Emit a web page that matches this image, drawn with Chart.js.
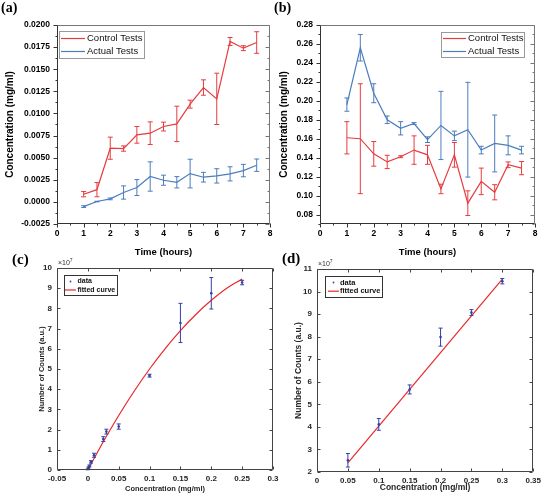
<!DOCTYPE html>
<html lang="en">
<head>
    <meta charset="UTF-8">
    <title>Concentration and counts</title>
    <style>
        body { margin: 0; background: #fff; }
        #wrap { position: relative; width: 545px; height: 498px; overflow: hidden; }
        canvas { position: absolute; left: 0; top: 0; }
        .tag {
            position: absolute;
            font-family: "Liberation Serif", "DejaVu Serif", serif;
            font-weight: bold;
            line-height: 1;
            color: #000;
        }
    </style>
    <script src="https://cdn.jsdelivr.net/npm/chart.js"></script>
</head>
<body>
<div id="wrap">
    <canvas id="chartA" width="545" height="498"></canvas>
    <canvas id="chartB" width="545" height="498"></canvas>
    <canvas id="chartC" width="545" height="498"></canvas>
    <canvas id="chartD" width="545" height="498"></canvas>
    <div class="tag" style="left:1px;top:1px;font-size:14px">(a)</div>
    <div class="tag" style="left:274px;top:1px;font-size:14px">(b)</div>
    <div class="tag" style="left:12px;top:252px;font-size:15px">(c)</div>
    <div class="tag" style="left:282px;top:251px;font-size:15px">(d)</div>
</div>

<script>
    // (a) / (b): time points in hours
    const hours = [1, 1.5, 2, 2.5, 3, 3.5, 4, 4.5, 5, 5.5, 6, 6.5, 7, 7.5];

    // (a) concentration (mg/ml)
    const aControl    = [0.00087, 0.00138, 0.00607, 0.00603, 0.00758, 0.00777, 0.00852, 0.00882, 0.01105, 0.01293, 0.01165, 0.01814, 0.01738, 0.01802];
    const aControlErr = [0.0003, 0.0008, 0.00125, 0.0003, 0.00094, 0.00128, 0.0005, 0.002, 0.00045, 0.00087, 0.0029, 0.00045, 0.00028, 0.00122];
    const aActual     = [-0.00053, 0.00004, 0.00034, 0.00106, 0.00162, 0.00287, 0.00245, 0.00222, 0.0032, 0.00279, 0.00294, 0.00317, 0.00354, 0.00415];
    const aActualErr  = [0.0001, 0.00003, 0.0001, 0.00075, 0.0009, 0.00166, 0.00057, 0.00064, 0.00162, 0.00055, 0.00081, 0.0008, 0.0007, 0.0007];

    // (b) concentration (mg/ml)
    const bControl    = [0.161, 0.160, 0.144, 0.1355, 0.141, 0.148, 0.143, 0.107, 0.143, 0.092, 0.115, 0.1035, 0.1325, 0.129];
    const bControlErr = [0.017, 0.058, 0.013, 0.007, 0.001, 0.015, 0.01, 0.005, 0.013, 0.013, 0.014, 0.008, 0.003, 0.007];
    const bActual     = [0.196, 0.256, 0.208, 0.180, 0.171, 0.176, 0.159, 0.174, 0.163, 0.1695, 0.148, 0.155, 0.153, 0.148];
    const bActualErr  = [0.007, 0.014, 0.01, 0.004, 0.007, 0.001, 0.003, 0.036, 0.005, 0.05, 0.004, 0.03, 0.01, 0.004];

    // (c) calibration, counts in units of 1e7
    const cConc      = [0, 0.001, 0.0025, 0.005, 0.01, 0.025, 0.03, 0.05, 0.1, 0.15, 0.2, 0.25];
    const cCounts    = [0.03, 0.1, 0.2, 0.4, 0.73, 1.53, 1.9, 2.15, 4.67, 7.28, 8.75, 9.28];
    const cCountsErr = [0.02, 0.05, 0.05, 0.06, 0.1, 0.12, 0.12, 0.13, 0.07, 0.97, 0.78, 0.11];
    const cFitConc   = [0, 0.025, 0.05, 0.075, 0.1, 0.125, 0.15, 0.175, 0.2, 0.225, 0.25];
    const cFitCounts = [0, 1.4, 2.7, 3.9, 5.0, 6.0, 6.9, 7.7, 8.4, 9.0, 9.45];

    // (d) calibration, counts in units of 1e7
    const dConc      = [0.05, 0.1, 0.15, 0.2, 0.25, 0.3];
    const dCounts    = [2.52, 4.11, 5.66, 7.98, 9.07, 10.46];
    const dCountsErr = [0.3, 0.26, 0.2, 0.4, 0.13, 0.12];
    const dFitConc   = [0.05, 0.3];
    const dFitCounts = [2.4, 10.55];

    const RED = '#e63c40';
    const BLUE = '#4b7dbd';
    const M_BLUE = '#3340a8';
    const M_RED = '#e8282c';
    const SANS = '"Liberation Sans", Arial, sans-serif';

    function xy(xs, ys) {
        return xs.map((x, i) => ({ x: x, y: ys[i] }));
    }

    function line(ctx, x1, y1, x2, y2) {
        ctx.beginPath();
        ctx.moveTo(x1, y1);
        ctx.lineTo(x2, y2);
        ctx.stroke();
    }

    // vertical error bars with caps, read from dataset.errors
    const errBars = {
        id: 'errBars',
        afterDatasetsDraw(chart, args, o) {
            const { ctx, scales: { x, y } } = chart;
            ctx.save();
            ctx.lineWidth = o.width;
            chart.data.datasets.forEach(ds => {
                if (!ds.errors) return;
                ctx.strokeStyle = ds.errColor || ds.borderColor;
                ds.data.forEach((p, i) => {
                    const px = x.getPixelForValue(p.x);
                    const y1 = y.getPixelForValue(p.y + ds.errors[i]);
                    const y2 = y.getPixelForValue(p.y - ds.errors[i]);
                    line(ctx, px, y1, px, y2);
                    line(ctx, px - o.cap, y1, px + o.cap, y1);
                    line(ctx, px - o.cap, y2, px + o.cap, y2);
                });
            });
            ctx.restore();
        }
    };

    // box around the plot and tick marks (Origin or MATLAB look)
    const frame = {
        id: 'frame',
        afterDatasetsDraw(chart, args, o) {
            const { ctx, chartArea: a, scales: { x, y } } = chart;
            const L = o.tick;
            ctx.save();
            ctx.lineWidth = 1;
            const l = Math.round(a.left) + 0.5, r = Math.round(a.right) - 0.5;
            const t = Math.round(a.top) + 0.5, b = Math.round(a.bottom) - 0.5;
            ctx.strokeStyle = o.boxColor;
            line(ctx, l, t, r, t);
            line(ctx, r, t, r, b);
            ctx.strokeStyle = o.axisColor;
            line(ctx, l, t, l, b);
            line(ctx, l, b, r, b);

            const ys = y.ticks.map(k => Math.round(y.getPixelForValue(k.value)) + 0.5);
            const xs = x.ticks.map(k => Math.round(x.getPixelForValue(k.value)) + 0.5);
            if (o.style === 'origin') {
                ys.forEach(py => {
                    ctx.strokeStyle = o.axisColor; line(ctx, l - L, py, l, py);
                    ctx.strokeStyle = o.boxColor; line(ctx, r - L, py, r, py);
                });
                xs.forEach(px => { ctx.strokeStyle = o.axisColor; line(ctx, px, b, px, b + L); });
                // minor ticks half way between majors
                const ysv = y.ticks.map(k => k.value), xsv = x.ticks.map(k => k.value);
                const ystep = ysv[1] - ysv[0], xstep = xsv[1] - xsv[0];
                for (let v = ysv[0] - ystep / 2; v <= y.max + 1e-9; v += ystep) {
                    if (v < y.min - 1e-9) continue;
                    const py = Math.round(y.getPixelForValue(v)) + 0.5;
                    ctx.strokeStyle = o.axisColor; line(ctx, l - L / 2, py, l, py);
                    ctx.strokeStyle = o.boxColor; line(ctx, r - L / 2, py, r, py);
                }
                for (let v = xsv[0] + xstep / 2; v <= x.max; v += xstep) {
                    const px = Math.round(x.getPixelForValue(v)) + 0.5;
                    ctx.strokeStyle = o.axisColor; line(ctx, px, b, px, b + L / 2);
                }
            } else {
                ctx.strokeStyle = o.boxColor;
                ys.forEach(py => { line(ctx, l, py, l + L, py); line(ctx, r - L, py, r, py); });
                xs.forEach(px => { line(ctx, px, b, px, b - L); line(ctx, px, t, px, t + L); });
                // exponent label above the y axis
                ctx.fillStyle = '#333';
                ctx.textBaseline = 'alphabetic';
                ctx.font = '7px ' + SANS;
                ctx.fillText('\u00d710', a.left + 1, a.top - 3);
                const w = ctx.measureText('\u00d710').width;
                ctx.font = '5px ' + SANS;
                ctx.fillText('7', a.left + 1 + w, a.top - 6);
            }
            ctx.restore();
        }
    };

    // legend box placed inside the plot area
    const legendBox = {
        id: 'legendBox',
        afterDraw(chart, args, o) {
            const ctx = chart.ctx;
            ctx.save();
            ctx.fillStyle = '#fff';
            ctx.fillRect(o.x, o.y, o.w, o.h);
            ctx.strokeStyle = o.border;
            ctx.lineWidth = 1;
            ctx.strokeRect(o.x + 0.5, o.y + 0.5, o.w, o.h);
            ctx.font = o.font;
            ctx.textBaseline = 'middle';
            chart.data.datasets.forEach((ds, i) => {
                const cy = o.y + o.first + i * o.gap;
                if (ds.showLine === false) {
                    ctx.fillStyle = ds.pointBackgroundColor;
                    ctx.beginPath();
                    ctx.arc(o.x + o.lineX + o.lineW / 2, cy, 0.9, 0, Math.PI * 2);
                    ctx.fill();
                } else {
                    ctx.strokeStyle = ds.borderColor;
                    ctx.lineWidth = 1.2;
                    line(ctx, o.x + o.lineX, cy, o.x + o.lineX + o.lineW, cy);
                }
                ctx.fillStyle = '#111';
                ctx.fillText(ds.label, o.x + o.textX, cy);
            });
            ctx.restore();
        }
    };

    // grid and tick marks are all drawn by the frame plugin
    const noGrid = { display: false, drawTicks: false, tickLength: 0 };

    function originScales(xTitle, yTitle, yMin, yMax, yStep, yFmt, yWidth) {
        return {
            x: {
                type: 'linear', min: 0, max: 8,
                grid: noGrid, border: { display: false },
                ticks: {
                    stepSize: 1, maxRotation: 0, autoSkip: false, padding: 5,
                    color: '#000', font: { family: SANS, size: 8.5, weight: 'bold' }
                },
                title: { display: true, text: xTitle, padding: 0, color: '#000', font: { family: SANS, size: 9.5, weight: 'bold' } },
                afterFit: s => { s.height = 34; }
            },
            y: {
                type: 'linear', min: yMin, max: yMax,
                grid: noGrid, border: { display: false },
                ticks: {
                    stepSize: yStep, includeBounds: false, autoSkip: false, padding: 7,
                    color: '#000', font: { family: SANS, size: 8.5, weight: 'bold' },
                    callback: v => yFmt(v)
                },
                title: { display: true, text: yTitle, padding: 0, color: '#000', font: { family: SANS, size: 10, weight: 'bold' } },
                afterFit: s => { s.width = yWidth; }
            }
        };
    }

    function matlabScales(xMin, xMax, yMin, yMax, titleSize, yWidth, xHeight) {
        const fmt = v => (Math.abs(v) < 1e-9 ? '0' : String(+v.toFixed(2)));
        return {
            x: {
                type: 'linear', min: xMin, max: xMax,
                grid: noGrid, border: { display: false },
                ticks: {
                    stepSize: 0.05, maxRotation: 0, autoSkip: false, padding: 4,
                    color: '#262626', font: { family: SANS, size: 8, weight: 'bold' }, callback: fmt
                },
                title: { display: true, text: 'Concentration (mg/ml)', padding: 0, color: '#262626', font: { family: SANS, size: titleSize, weight: 'bold' } },
                afterFit: s => { s.height = xHeight; }
            },
            y: {
                type: 'linear', min: yMin, max: yMax,
                grid: noGrid, border: { display: false },
                ticks: {
                    stepSize: 1, autoSkip: false, padding: 5,
                    color: '#262626', font: { family: SANS, size: 8, weight: 'bold' }
                },
                title: { display: true, text: 'Number of Counts (a.u.)', padding: 0, color: '#262626', font: { family: SANS, size: titleSize, weight: 'bold' } },
                afterFit: s => { s.width = yWidth; }
            }
        };
    }

    const fmt4 = v => (Math.abs(v) < 1e-9 ? 0 : v).toFixed(4);
    const fmt2 = v => v.toFixed(2);

    const originLine = { borderWidth: 1.2, pointRadius: 0, tension: 0, fill: false };
    const common = { responsive: false, animation: false, events: [] };

    // (a)
    new Chart(document.getElementById('chartA'), {
        type: 'line',
        data: {
            datasets: [
                Object.assign({ label: 'Control Tests', data: xy(hours, aControl), errors: aControlErr, borderColor: RED }, originLine),
                Object.assign({ label: 'Actual Tests', data: xy(hours, aActual), errors: aActualErr, borderColor: BLUE }, originLine)
            ]
        },
        options: Object.assign({}, common, {
            layout: { padding: { left: 4, top: 25, right: 275, bottom: 240 } },
            plugins: {
                legend: { display: false }, tooltip: { enabled: false },
                errBars: { width: 1, cap: 2.5 },
                frame: { style: 'origin', tick: 4, boxColor: '#777', axisColor: '#333' },
                legendBox: { x: 59, y: 31, w: 85, h: 27, border: '#999', font: '9.5px ' + SANS, first: 7.5, gap: 13, lineX: 2, lineW: 24, textX: 28 }
            },
            scales: originScales('Time (hours)', 'Concentration (mg/ml)', -0.0025, 0.02, 0.0025, fmt4, 53)
        }),
        plugins: [errBars, frame, legendBox]
    });

    // (b)
    new Chart(document.getElementById('chartB'), {
        type: 'line',
        data: {
            datasets: [
                Object.assign({ label: 'Control Tests', data: xy(hours, bControl), errors: bControlErr, borderColor: RED }, originLine),
                Object.assign({ label: 'Actual Tests', data: xy(hours, bActual), errors: bActualErr, borderColor: BLUE }, originLine)
            ]
        },
        options: Object.assign({}, common, {
            layout: { padding: { left: 278, top: 25, right: 10, bottom: 240 } },
            plugins: {
                legend: { display: false }, tooltip: { enabled: false },
                errBars: { width: 1, cap: 2.5 },
                frame: { style: 'origin', tick: 4, boxColor: '#777', axisColor: '#333' },
                legendBox: { x: 441, y: 32, w: 83, h: 25, border: '#999', font: '9.5px ' + SANS, first: 6.5, gap: 13, lineX: 2, lineW: 23, textX: 27 }
            },
            scales: originScales('Time (hours)', 'Concentration (mg/ml)', 0.07, 0.28, 0.02, fmt2, 42)
        }),
        plugins: [errBars, frame, legendBox]
    });

    // (c)
    new Chart(document.getElementById('chartC'), {
        type: 'line',
        data: {
            datasets: [
                { label: 'data', data: xy(cConc, cCounts), errors: cCountsErr, errColor: M_BLUE, showLine: false,
                  pointRadius: 1.3, pointBorderWidth: 0, pointBackgroundColor: M_BLUE, borderColor: M_BLUE },
                { label: 'fitted curve', data: xy(cFitConc, cFitCounts), borderColor: M_RED, borderWidth: 1.2,
                  pointRadius: 0, cubicInterpolationMode: 'monotone' }
            ]
        },
        options: Object.assign({}, common, {
            layout: { padding: { left: 37, top: 268, right: 272, bottom: 5 } },
            plugins: {
                legend: { display: false }, tooltip: { enabled: false },
                errBars: { width: 1, cap: 2 },
                frame: { style: 'matlab', tick: 3, boxColor: '#444', axisColor: '#444' },
                legendBox: { x: 64, y: 275, w: 53, h: 20, border: '#333', font: 'bold 7px ' + SANS, first: 6.5, gap: 8.5, lineX: 1, lineW: 11, textX: 13.5 }
            },
            scales: matlabScales(-0.05, 0.3, 0, 10, 7.5, 20, 23)
        }),
        plugins: [errBars, frame, legendBox]
    });

    // (d)
    new Chart(document.getElementById('chartD'), {
        type: 'line',
        data: {
            datasets: [
                { label: 'data', data: xy(dConc, dCounts), errors: dCountsErr, errColor: M_BLUE, showLine: false,
                  pointRadius: 1.3, pointBorderWidth: 0, pointBackgroundColor: M_BLUE, borderColor: M_BLUE },
                { label: 'fitted curve', data: xy(dFitConc, dFitCounts), borderColor: M_RED, borderWidth: 1.2, pointRadius: 0 }
            ]
        },
        options: Object.assign({}, common, {
            layout: { padding: { left: 294, top: 269, right: 8, bottom: 5 } },
            plugins: {
                legend: { display: false }, tooltip: { enabled: false },
                errBars: { width: 1, cap: 2 },
                frame: { style: 'matlab', tick: 3, boxColor: '#444', axisColor: '#444' },
                legendBox: { x: 325, y: 276, w: 57, h: 21, border: '#333', font: 'bold 7.5px ' + SANS, first: 6.5, gap: 8.7, lineX: 3, lineW: 11, textX: 15 }
            },
            scales: matlabScales(0, 0.35, 2, 11, 8.5, 23, 21)
        }),
        plugins: [errBars, frame, legendBox]
    });
</script>
</body>
</html>
